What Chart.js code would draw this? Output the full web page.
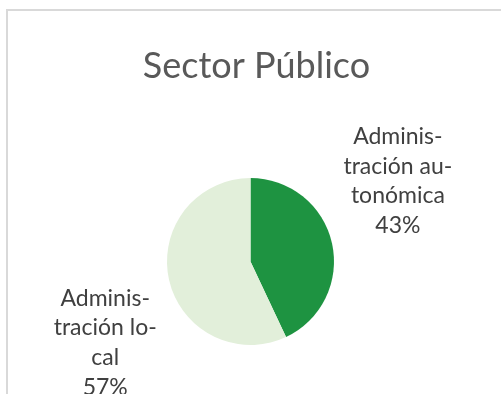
<!DOCTYPE html>
<html>
<head>
<meta charset="utf-8">
<script src="https://cdn.jsdelivr.net/npm/chart.js@4/dist/chart.umd.min.js"></script>
<style>
  html, body { margin: 0; padding: 0; background: #ffffff; }
  #wrap { width: 501px; height: 394px; }
</style>
</head>
<body>
<div id="wrap"><canvas id="c" width="501" height="394"></canvas></div>
<script>
// Chart data
const chartTitle = 'Sector Público';
const categories = ['Administración autonómica', 'Administración local'];
const values = [43, 57];
// Hyphenated lines used for the slice labels
const labelLines = [
  ['Adminis-', 'tración au-', 'tonómica'],
  ['Adminis-', 'tración lo-', 'cal']
];
const sliceColors = ['#1e9341', '#e2efda'];

// Label anchor offsets, in units of the pie radius from its centre
const labelAnchors = [
  { dx: 1.765, dy: -1.405 },
  { dx: -1.74, dy: 0.53 }
];

const FONT = 'Lato, "Open Sans", sans-serif';

const frameAndText = {
  id: 'frameAndText',
  beforeDraw(chart) {
    const ctx = chart.ctx;
    ctx.save();
    ctx.fillStyle = '#ffffff';
    ctx.fillRect(0, 0, chart.width, chart.height);
    ctx.strokeStyle = '#d9d9d9';
    ctx.lineWidth = 2;
    ctx.beginPath();
    ctx.moveTo(7, chart.height);
    ctx.lineTo(7, 10);
    ctx.lineTo(chart.width, 10);
    ctx.stroke();
    ctx.restore();
  },
  afterDraw(chart) {
    const ctx = chart.ctx;
    ctx.save();
    // title
    ctx.fillStyle = '#595959';
    ctx.font = '36px ' + FONT;
    ctx.textAlign = 'center';
    ctx.textBaseline = 'alphabetic';
    ctx.fillText(chartTitle, 256.5, 77.5);

    // slice labels: category lines + percentage
    const meta = chart.getDatasetMeta(0);
    const total = values.reduce((a, b) => a + b, 0);
    ctx.fillStyle = '#404040';
    ctx.font = '23px ' + FONT;
    meta.data.forEach((arc, i) => {
      const r = arc.outerRadius;
      const cx = arc.x + labelAnchors[i].dx * r;
      let y = arc.y + labelAnchors[i].dy * r;
      const lines = labelLines[i].concat([Math.round(values[i] / total * 100) + '%']);
      lines.forEach(line => {
        ctx.fillText(line, cx, y);
        y += 29.6;
      });
    });
    ctx.restore();
  }
};

new Chart(document.getElementById('c'), {
  type: 'pie',
  data: {
    labels: categories,
    datasets: [{
      data: values,
      backgroundColor: sliceColors,
      borderWidth: 0
    }]
  },
  options: {
    responsive: false,
    animation: false,
    layout: { padding: { top: 178, bottom: 49, left: 167, right: 167 } },
    plugins: {
      legend: { display: false },
      title: { display: false },
      tooltip: { enabled: false }
    }
  },
  plugins: [frameAndText]
});
</script>
</body>
</html>
